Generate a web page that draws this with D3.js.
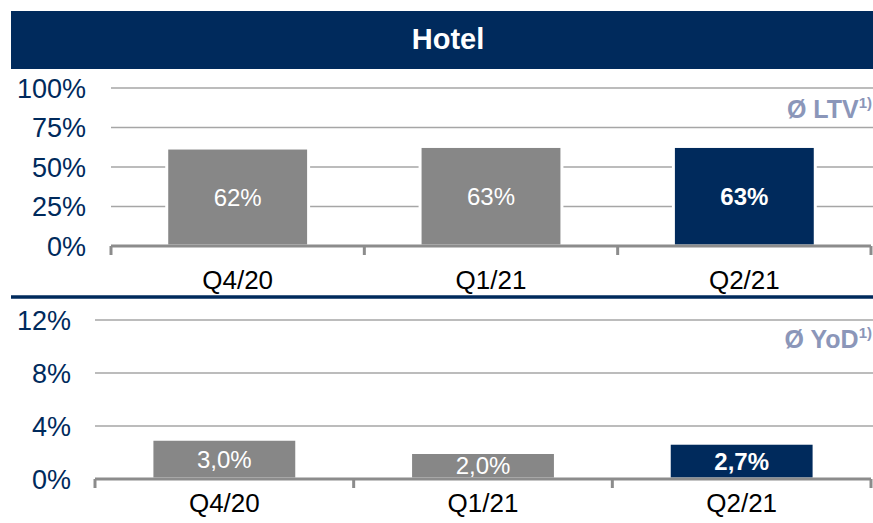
<!DOCTYPE html>
<html>
<head>
<meta charset="utf-8">
<script src="https://cdn.jsdelivr.net/npm/d3@7"></script>
<style>
  body { margin: 0; background: #fff; }
  svg { display: block; font-family: "Liberation Sans", Arial, sans-serif; }
</style>
</head>
<body>
<div id="chart"></div>
<script>
// data
const categories = ["Q4/20", "Q1/21", "Q2/21"];
const ltvValues = [62, 63, 63];
const ltvLabels = ["62%", "63%", "63%"];
const ltvTicks = [0, 25, 50, 75, 100];
const yodValues = [3.0, 2.0, 2.7];
const yodLabels = ["3,0%", "2,0%", "2,7%"];
const yodTicks = [0, 4, 8, 12];
const highlight = "Q2/21";

const navy = "#002a5c";
const greyBar = "#878787";
const gridCol = "#a6a6a6";
const axisCol = "#8c8c8c";

const W = 873, H = 523;
const svg = d3.select("#chart").append("svg")
  .attr("width", W).attr("height", H);

// title banner
svg.append("rect").attr("x", 11).attr("y", 11).attr("width", W - 11).attr("height", 58)
  .attr("fill", navy);
svg.append("text").attr("x", 448).attr("y", 49).attr("text-anchor", "middle")
  .attr("fill", "#fff").attr("font-weight", "bold").attr("font-size", 29)
  .text("Hotel");

// separator between the two panels
svg.append("line").attr("x1", 11).attr("x2", W).attr("y1", 297).attr("y2", 297)
  .attr("stroke", navy).attr("stroke-width", 3.5);

let panel = (cfg) => {
  const x = d3.scaleBand().domain(categories).range([cfg.x0, 871]).padding(0);
  const y = d3.scaleLinear().domain(cfg.domain).range([cfg.yBottom, cfg.yTop]);
  const g = svg.append("g");

  // gridlines
  g.selectAll(".grid").data(cfg.ticks.filter(t => t > 0)).enter()
    .append("line")
    .attr("x1", cfg.x0).attr("x2", W)
    .attr("y1", d => y(d)).attr("y2", d => y(d))
    .attr("stroke", gridCol).attr("stroke-width", 1.5);

  // tick labels
  g.selectAll(".tl").data(cfg.ticks).enter()
    .append("text")
    .attr("x", cfg.labelX).attr("y", d => y(d))
    .attr("dy", "0.36em")
    .attr("text-anchor", "end")
    .attr("font-size", 27).attr("fill", navy)
    .text(d => d + "%");

  // bars
  const bw = x.bandwidth() * 0.56;
  const bars = g.selectAll(".bar").data(categories).enter().append("g");
  bars.append("rect")
    .attr("x", d => x(d) + (x.bandwidth() - bw) / 2)
    .attr("width", bw)
    .attr("y", (d, i) => y(cfg.values[i]))
    .attr("height", (d, i) => y(0) - y(cfg.values[i]))
    .attr("fill", d => d == highlight ? navy : greyBar)
    .attr("stroke", "#fff").attr("stroke-width", 3);
  bars.append("text")
    .attr("x", d => x(d) + x.bandwidth() / 2)
    .attr("y", (d, i) => (y(cfg.values[i]) + y(0)) / 2)
    .attr("dy", "0.36em")
    .attr("text-anchor", "middle")
    .attr("fill", "#fff")
    .attr("font-size", 24)
    .attr("font-weight", d => d == highlight ? "bold" : "normal")
    .text((d, i) => cfg.labels[i]);

  // baseline axis with ticks at band edges
  g.append("line").attr("x1", cfg.x0).attr("x2", 871)
    .attr("y1", y(0)).attr("y2", y(0))
    .attr("stroke", axisCol).attr("stroke-width", 3);
  const edges = categories.map(c => x(c)).concat([871]);
  g.selectAll(".tick").data(edges).enter()
    .append("line")
    .attr("x1", d => d).attr("x2", d => d)
    .attr("y1", y(0)).attr("y2", y(0) + 9)
    .attr("stroke", axisCol).attr("stroke-width", 3);

  // category labels
  g.selectAll(".cat").data(categories).enter()
    .append("text")
    .attr("x", d => x(d) + x.bandwidth() / 2)
    .attr("y", cfg.catY)
    .attr("text-anchor", "middle")
    .attr("font-size", 26).attr("fill", "#000")
    .text(d => d);

  // annotation
  const t = g.append("text").attr("x", 872).attr("y", cfg.noteY)
    .attr("text-anchor", "end").attr("fill", "#8b96b9").attr("font-weight", "bold");
  t.append("tspan").attr("font-size", 25).text(cfg.note);
  t.append("tspan").attr("font-size", 15).attr("dy", -10).text("1)");
};

panel({ x0: 111, domain: [0, 100], yBottom: 246, yTop: 88, ticks: ltvTicks,
  values: ltvValues, labels: ltvLabels, labelX: 86, catY: 289,
  note: "Ø LTV", noteY: 118 });
panel({ x0: 95, domain: [0, 12], yBottom: 479, yTop: 320, ticks: yodTicks,
  values: yodValues, labels: yodLabels, labelX: 71, catY: 512,
  note: "Ø YoD", noteY: 348 });
</script>
</body>
</html>
